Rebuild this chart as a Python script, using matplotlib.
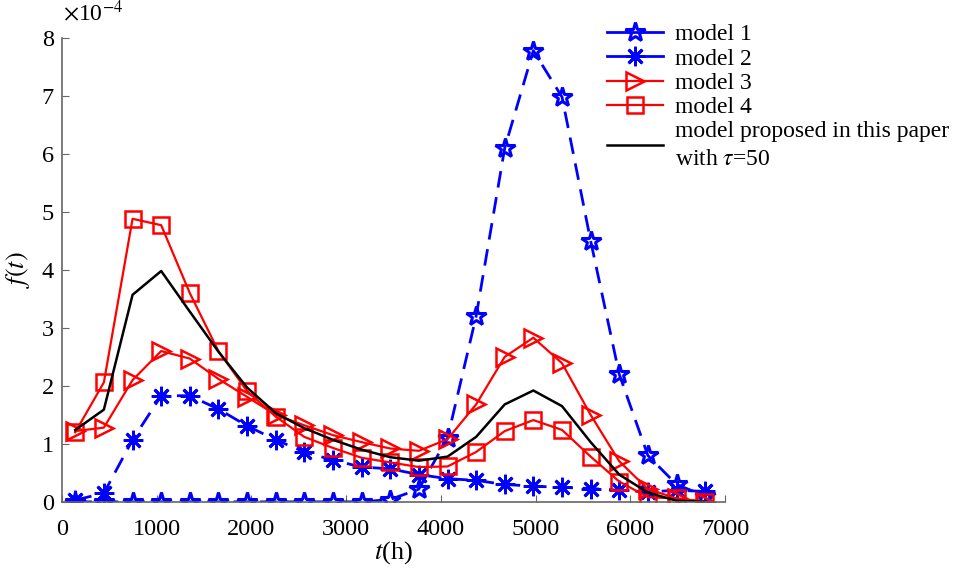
import matplotlib
matplotlib.use("Agg")
import matplotlib.pyplot as plt

plt.rcParams.update({
    "font.family": ["Liberation Serif", "DejaVu Serif"],
    "mathtext.fontset": "stix",
    "font.size": 18,
})

# operating time (h) and failure density f(t) in units of 1e-4
t_hours = [140, 442, 745, 1047, 1349, 1651, 1954, 2256, 2558, 2860, 3163, 3465,
           3767, 4070, 4372, 4674, 4976, 5279, 5581, 5883, 6185, 6488, 6790]
model1 = [0, 0, 0, 0, 0, 0, 0, 0, 0, 0, 0, 0.04,
          0.22, 1.1, 3.2, 6.1, 7.78, 6.98, 4.5, 2.2, 0.8, 0.3, 0.1]
model2 = [0.03, 0.15, 1.07, 1.83, 1.83, 1.6, 1.31, 1.07, 0.86, 0.72, 0.6, 0.57,
          0.47, 0.4, 0.37, 0.3, 0.27, 0.25, 0.23, 0.2, 0.17, 0.2, 0.18]
model3 = [1.22, 1.28, 2.1, 2.6, 2.47, 2.12, 1.81, 1.5, 1.32, 1.15, 1.03, 0.92,
          0.88, 1.08, 1.68, 2.5, 2.83, 2.39, 1.5, 0.7, 0.22, 0.06, 0.0]
model4 = [1.2, 2.06, 4.88, 4.77, 3.6, 2.6, 1.91, 1.47, 1.12, 0.93, 0.76, 0.68,
          0.6, 0.61, 0.86, 1.22, 1.41, 1.24, 0.78, 0.35, 0.08, 0.06, 0.0]
proposed = [1.24, 1.59, 3.57, 3.98, 3.28, 2.59, 1.97, 1.53, 1.27, 1.07, 0.9, 0.77,
            0.71, 0.78, 1.12, 1.68, 1.92, 1.65, 1.03, 0.47, 0.16, 0.02, 0.0]

fig = plt.figure(figsize=(9.54, 5.69), dpi=100)
ax = fig.add_axes([0.065, 0.118, 0.695, 0.8155])

blue, red = "#0000ff", "#ff0000"
dash = (6, 3.5)
ax.plot(t_hours, model1, color=blue, lw=2, dashes=dash, marker="*", ms=15,
        mfc="none", mew=2.2, label="model 1")
ax.plot(t_hours, model2, color=blue, lw=2, dashes=dash, marker=(8, 2, 0), ms=14,
        mew=2, label="model 2")
ax.plot(t_hours, model3, color=red, lw=1.6, marker=">", ms=13, mfc="none",
        mew=1.8, label="model 3")
ax.plot(t_hours, model4, color=red, lw=1.6, marker="s", ms=11, mfc="none",
        mew=1.8, label="model 4")
ax.plot(t_hours, proposed, color="black", lw=1.8,
        label="model proposed in this paper\nwith $\\tau$=50")

ax.set_xlim(0, 7000)
ax.set_ylim(0, 8)
ax.set_xticks(range(0, 7001, 1000))
ax.set_yticks(range(0, 9))
for side in ("top", "right"):
    ax.spines[side].set_visible(False)
for side in ("left", "bottom"):
    ax.spines[side].set_color("#666666")
    ax.spines[side].set_linewidth(1.2)
ax.tick_params(direction="in", length=5, color="#666666", labelsize=17.5)
ax.tick_params(axis="x", pad=12)
ax.tick_params(axis="y", pad=6)

ax.set_xlabel("$t$(h)", fontsize=19, labelpad=0)
ax.set_ylabel("$f(t)$", fontsize=19, labelpad=7)
fig.text(0.066, 0.955, "$\\times$10$^{-4}$", fontsize=17, ha="left", va="bottom")

leg = fig.legend(loc="upper left", bbox_to_anchor=(0.626, 0.975), frameon=False,
                 fontsize=17, handlelength=2.4, handletextpad=0.5,
                 labelspacing=0.12, borderaxespad=0)
for h in leg.legend_handles:
    h.set_linestyle("-")
for txt in leg.get_texts():
    txt.set_linespacing(1.4)

fig.savefig("out.png", dpi=100)
